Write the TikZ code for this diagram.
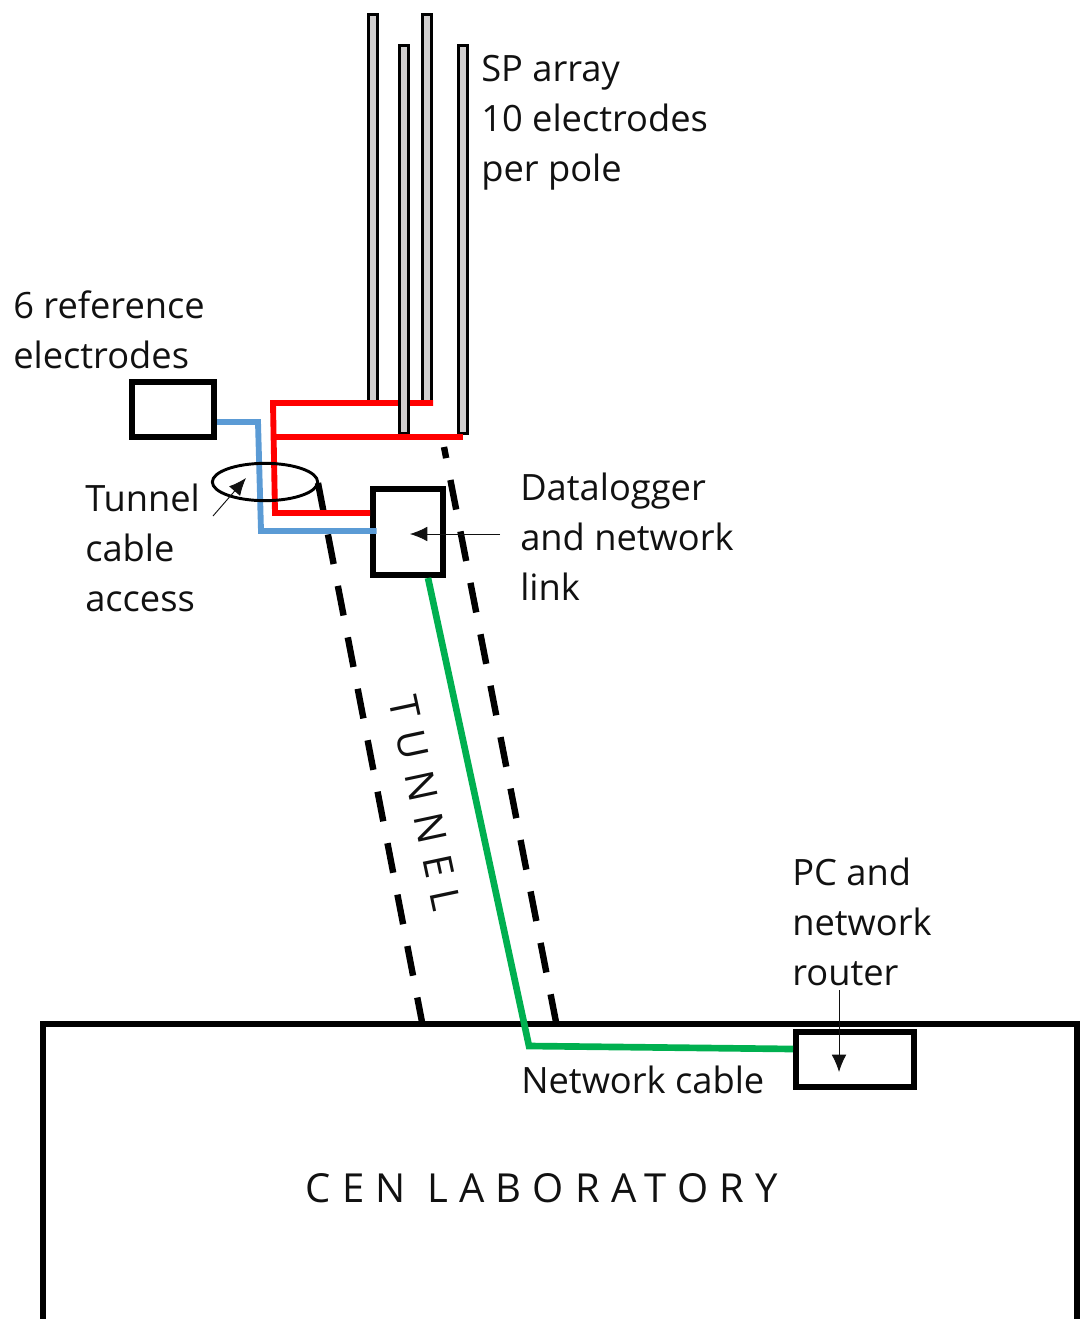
\documentclass[tikz,border=0pt]{standalone}
\usepackage{fontspec}
\setmainfont{Open Sans}
\newfontfamily\spacedfont[LetterSpace=28]{Open Sans}
\newfontfamily\tunnelfont[LetterSpace=32]{Open Sans}
\usetikzlibrary{arrows.meta,positioning,shapes.geometric}
\definecolor{PoleGrey}{HTML}{D0CECE}
\definecolor{WireRed}{HTML}{FF0000}
\definecolor{WireBlue}{HTML}{5B9BD5}
\definecolor{WireGreen}{HTML}{00B050}
\definecolor{TextInk}{HTML}{111111}
\begin{document}
\begin{tikzpicture}[x=0.75pt,y=-0.75pt]
    \tikzset{pole/.style={draw=black,fill=PoleGrey,line width=2.2pt,minimum width=7pt,inner sep=0pt,anchor=north},
      unit/.style={draw=black,fill=white,line width=4.4pt,inner sep=0pt},
      wire/.style={line width=4.4pt,line join=miter},
      tunnelwall/.style={draw=black,line width=4.8pt,dash pattern=on 22.6pt off 16.7pt},
      pointer/.style={draw=TextInk,line width=0.7pt,-{Latex[length=13pt,width=11pt]}},
      lbl/.style={align=left,anchor=base west,inner sep=0pt,text=TextInk,font=\fontsize{27.2}{37.5}\selectfont}}
    \useasboundingbox (0,0) rectangle (1079,1319);
    % tunnel walls
    \coordinate (wallAtop) at (318,483);
    \coordinate (wallAend) at (422,1022);
    \coordinate (wallBtop) at (444,447);
    \coordinate (wallBend) at (556,1022);
    \draw[tunnelwall] (wallAtop) -- (wallAend);
    \draw[tunnelwall,dash phase=14.1pt] (wallBtop) -- (wallBend);
    % boxes
    \node[unit,minimum width=61.6pt,minimum height=41.35pt] (refbox) at (173,409.5) {};
    \node[unit,minimum width=52.6pt,minimum height=64.6pt] (logger) at (408,532) {};
    \node[unit,minimum width=88.6pt,minimum height=41.35pt] (pcbox) at (855,1059.5) {};
    % poles behind the upper red wire
    \node[pole,minimum height=291pt] (pole1) at (373,13) {};
    \node[pole,minimum height=291pt] (pole3) at (427,13) {};
    % red wires
    \coordinate (redtop) at (273,403);
    \coordinate (redjoin) at (273.6,437);
    \coordinate (redlow) at (275,513);
    \draw[wire,draw=WireRed] (433,403) -- (redtop) -- (redlow) -- (logger.west |- redlow);
    \node[pole,minimum height=291pt] (pole2) at (404,44) {};
    \node[pole,minimum height=291pt] (pole4) at (463,44) {};
    \draw[wire,draw=WireRed] (redjoin) -- (463,437);
    % blue wire
    \coordinate (bluetop) at (258,422);
    \coordinate (bluelow) at (261,531);
    \draw[wire,draw=WireBlue,shorten >=-5pt] (refbox.east |- bluetop) -- (bluetop) -- (bluelow) -- (logger.west |- bluelow);
    % laboratory wall
    \coordinate (labA) at (43,1325);
    \coordinate (labB) at (43,1024);
    \coordinate (labC) at (1077,1024);
    \coordinate (labD) at (1077,1325);
    \draw[black,line width=4.4pt,line join=miter] (labA) -- (labB) -- (labC) -- (labD);
    % network cable
    \coordinate (netbend) at (529,1046);
    \draw[wire,draw=WireGreen,line width=5pt] (logger.south -| 428,0) -- (netbend) -- (pcbox.west |- 0,1049);
    % access ellipse
    \node[draw=black,line width=2.2pt,ellipse,minimum width=79pt,minimum height=28pt,inner sep=0pt] (access) at (265,482) {};
    % labels
    \node[lbl] (arraylabel) at (481,182) {SP array\\10 electrodes\\per pole};
    \node[lbl] (reflabel) at (13,368) {6 reference\\electrodes};
    \node[lbl] (accesslabel) at (85,611) {Tunnel\\cable\\access};
    \node[lbl] (loggerlabel) at (520,600) {Datalogger\\and network\\link};
    \node[lbl] (pclabel) at (792,985) {PC and\\network\\router};
    \node[lbl] (netlabel) at (521,1093) {Network cable};
    \node[lbl,font=\fontsize{30}{36}\spacedfont,anchor=base] (lablabel) at (542,1202) {CEN LABORATORY};
    \node[lbl,font=\fontsize{30}{36}\tunnelfont,anchor=center,rotate=-78] (tunnellabel) at (425,803) {TUNNEL};
    % pointers
    \coordinate (accesstail) at (213,516);
    \coordinate (accesstip) at (246,478);
    \coordinate (loggertail) at (500,534);
    \coordinate (loggertip) at (410,534);
    \coordinate (pctail) at (839,990);
    \coordinate (pctip) at (839,1072);
    \draw[pointer] (accesstail) -- (accesstip);
    \draw[pointer] (loggertail) -- (loggertip);
    \draw[pointer] (pctail) -- (pctip);
\end{tikzpicture}
\end{document}
